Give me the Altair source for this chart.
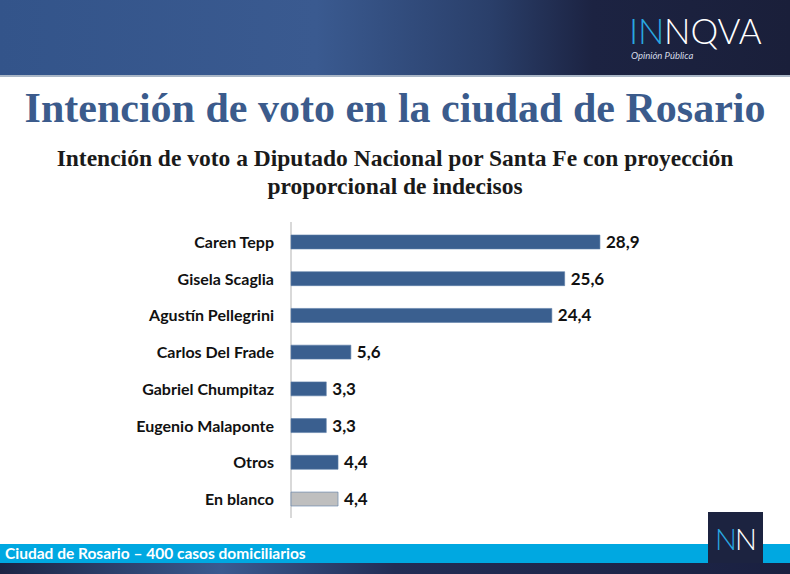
import altair as alt
import pandas as pd

categories = ["Caren Tepp", "Gisela Scaglia", "Agustín Pellegrini", "Carlos Del Frade",
              "Gabriel Chumpitaz", "Eugenio Malaponte", "Otros", "En blanco"]
values = [28.9, 25.6, 24.4, 5.6, 3.3, 3.3, 4.4, 4.4]
kinds = ["cand", "cand", "cand", "cand", "cand", "cand", "cand", "blank"]
value_labels = ["28,9", "25,6", "24,4", "5,6", "3,3", "3,3", "4,4", "4,4"]

title_text = "Intención de voto en la ciudad de Rosario"
subtitle_lines = ["Intención de voto a Diputado Nacional por Santa Fe con proyección",
                  "proporcional de indecisos"]
footer_text = "Ciudad de Rosario – 400 casos domiciliarios"

df = pd.DataFrame({"cat": categories, "val": values, "kind": kinds, "lab": value_labels})
one = pd.DataFrame({"a": [0]})

W, H = 790, 574

xs = alt.Scale(domain=[0, 30], range=[291, 291 + 30 * 10.69])
ys = alt.Scale(domain=categories, range=[223.6, 517.4], paddingInner=0.62, paddingOuter=0.31)
col = alt.Scale(domain=["cand", "blank"], range=["#3a5f8f", "#bfbfbf"])

def rect(x1, x2, y1, y2, color):
    return alt.Chart(one).mark_rect(color=color).encode(
        x=alt.value(x1), x2=alt.value(x2), y=alt.value(y1), y2=alt.value(y2))

def grad(stops):
    return alt.LinearGradient(gradient="linear", x1=0, x2=1, y1=0, y2=0,
                              stops=[alt.GradientStop(color=c, offset=o) for o, c in stops])

def txt(text, x, y, size, color, weight="normal", font="Lato", align="left", style="normal", baseline="alphabetic"):
    return alt.Chart(one).mark_text(text=text, fontSize=size, color=color, fontWeight=weight,
                                    font=font, align=align, fontStyle=style, baseline=baseline).encode(
        x=alt.value(x), y=alt.value(y))

header = rect(0, W, 0, 75, grad([(0, "#33548a"), (0.4, "#3a5a90"), (0.62, "#2a3f6a"), (0.75, "#1c2342"), (1, "#1a1f3a")]))
header_line = rect(0, W, 75, 77, "#a9b6c6")

logo1 = txt("IN", 629, 44, 35, "#29a8e0", weight=300)
logo2 = txt("NQVA", 664, 44, 35, "#ffffff", weight=300)
logo3 = txt("Opinión Pública", 631, 59, 9.5, "#d5dce8", style="italic")

title = txt(title_text, W / 2, 122, 42, "#3b5b8c", weight="bold", font="Liberation Serif", align="center")
sub1 = txt(subtitle_lines[0], W / 2, 166, 23.5, "#1a1a1a", weight="bold", font="Liberation Serif", align="center")
sub2 = txt(subtitle_lines[1], W / 2, 194, 23.5, "#1a1a1a", weight="bold", font="Liberation Serif", align="center")

axis_line = rect(290, 292, 222, 518, "#d9d9d9")

bars = alt.Chart(df).mark_bar(stroke="#5d7ea8", strokeWidth=0.6).encode(
    x=alt.X("val:Q", scale=xs, axis=None),
    x2=alt.datum(0),
    y=alt.Y("cat:N", scale=ys, axis=None, sort=categories),
    color=alt.Color("kind:N", scale=col, legend=None),
)
vlabels = alt.Chart(df).mark_text(align="left", baseline="middle", dx=6, dy=1, fontSize=17,
                                  fontWeight="bold", font="Lato", color="#111111").encode(
    x=alt.X("val:Q", scale=xs, axis=None),
    y=alt.Y("cat:N", scale=ys, axis=None, sort=categories),
    text="lab:N",
)
clabels = alt.Chart(df).mark_text(align="right", baseline="middle", dy=1, fontSize=16,
                                  fontWeight="bold", font="Lato", color="#111111").encode(
    x=alt.value(274),
    y=alt.Y("cat:N", scale=ys, axis=None, sort=categories),
    text="cat:N",
)

footer_band = rect(0, W, 544, 563, "#00a8e1")
footer_dark = rect(0, W, 563, H, grad([(0, "#1c2444"), (0.28, "#3a5a90"), (0.5, "#222d55"), (1, "#1a2040")]))
footer_txt = txt(footer_text, 5, 559, 15.5, "#ffffff", weight="bold")
logo_box = rect(708, 763, 512, 563, "#1c2340")
nn1 = txt("N", 715, 550, 29, "#29a8e0", weight=300)
nn2 = txt("N", 735, 550, 29, "#ffffff", weight=300)

chart = alt.layer(
    header, header_line, logo1, logo2, logo3, title, sub1, sub2,
    axis_line, bars, vlabels, clabels,
    footer_band, footer_dark, footer_txt, logo_box, nn1, nn2,
).properties(width=W, height=H, padding=0, autosize="none", background="white"
).configure_view(stroke=None)

chart.save("out.html", embed_options={"renderer": "svg", "actions": False})
